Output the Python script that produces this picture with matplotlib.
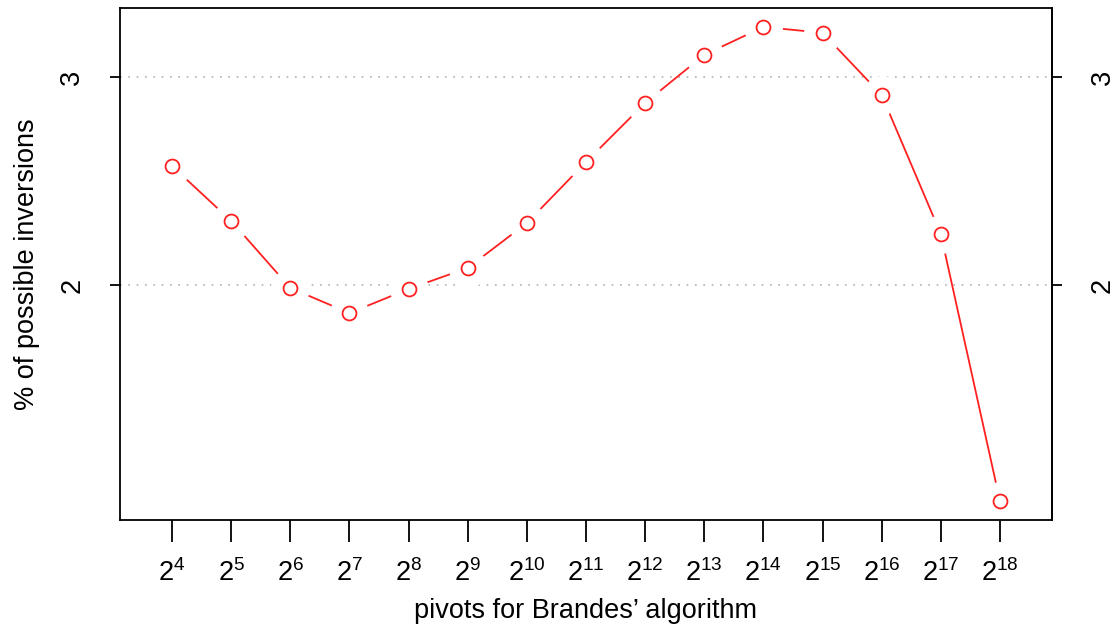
import matplotlib
matplotlib.use("Agg")
import matplotlib.pyplot as plt

plt.rcParams['font.family'] = ['Liberation Sans', 'DejaVu Sans']
plt.rcParams['mathtext.fontset'] = 'custom'
plt.rcParams['mathtext.rm'] = 'Liberation Sans'
plt.rcParams['mathtext.it'] = 'Liberation Sans'

# exponents of 2 used as pivot counts
exponents = [4, 5, 6, 7, 8, 9, 10, 11, 12, 13, 14, 15, 16, 17, 18]
# % of possible inversions
inversions = [2.572, 2.308, 1.986, 1.865, 1.981, 2.082, 2.298, 2.591,
              2.875, 3.106, 3.240, 3.212, 2.913, 2.245, 0.962]
ytick_vals = [2, 3]

FS = 19.5
fig = plt.figure(figsize=(11.2, 6.39), dpi=100)
ax = fig.add_axes([120 / 1120, 1 - 520 / 639, 932 / 1120, 512 / 639])

red = "#ff2020"
for y in ytick_vals:
    ax.axhline(y, color="#b0b0b0", linestyle=(0, (1, 4)), linewidth=1.2, zorder=1)

ax.plot(exponents, inversions, color=red, linewidth=1.3, zorder=2)
# white halo so the line stops short of each circle (R type="b")
ax.plot(exponents, inversions, linestyle="none", marker="o", markersize=27,
        markerfacecolor="white", markeredgecolor="white", zorder=3)
ax.plot(exponents, inversions, linestyle="none", marker="o", markersize=10,
        markerfacecolor="white", markeredgecolor=red, markeredgewidth=1.3, zorder=4)

ax.set_xlim(3.12, 18.88)
lo, hi = min(inversions), max(inversions)
pad = 0.04 * (hi - lo)
ax.set_ylim(lo - pad, hi + pad)

ax.set_xticks(exponents)
ax.set_xticklabels([r"$\mathregular{2^{%d}}$" % e for e in exponents], fontsize=FS)
ax.tick_params(axis="x", length=16, width=1.3, pad=12)

ax.set_yticks(ytick_vals)
ax.set_yticklabels([str(v) for v in ytick_vals], rotation=90, va="center", fontsize=FS)
ax.tick_params(axis="y", length=7, width=1.3, pad=18)

# right-hand axis with the same ticks
sec = ax.secondary_yaxis("right")
sec.set_yticks(ytick_vals)
sec.set_yticklabels([str(v) for v in ytick_vals], rotation=90, va="center", fontsize=FS)
sec.tick_params(axis="y", length=7, width=1.3, pad=20)
sec.spines["right"].set_linewidth(1.3)

# box on top of the white halos
for s in ax.spines.values():
    s.set_linewidth(1.3)
    s.set_zorder(10)

ax.set_xlabel("pivots for Brandes\u2019 algorithm", fontsize=FS, labelpad=8)
ax.set_ylabel("% of possible inversions", fontsize=FS, labelpad=14)

fig.savefig("out.png", dpi=100)
